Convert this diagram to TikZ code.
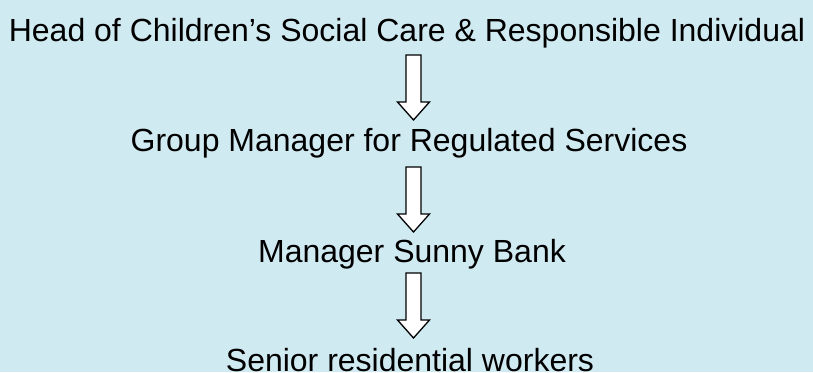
\documentclass[tikz,border=0pt]{standalone}
\usepackage{fontspec}
\setmainfont{Liberation Sans}
\usetikzlibrary{calc}
\definecolor{bg}{RGB}{208,234,242}
\newcommand{\barrow}[2]{%
  \draw[blockarrow] ($(#1)+(-7.5,0)$) -- ($(#1)+(7.5,0)$) -- ($(#2)+(7.5,-18)$) -- ($(#2)+(16,-18)$) -- (#2) -- ($(#2)+(-16,-18)$) -- ($(#2)+(-7.5,-18)$) -- cycle;}
\begin{document}
\begin{tikzpicture}[x=1pt,y=-1pt,
  lbl/.style={font=\fontsize{32}{38}\selectfont, anchor=base, inner sep=0pt},
  blockarrow/.style={fill=white, draw=black, line width=1.3pt, line join=miter}]
\fill[bg] (0,0) rectangle (813,372);
\useasboundingbox (0,0) rectangle (813,372);
\node[lbl] (t1) at (407,41) {Head of Children’s Social Care \& Responsible Individual};
\node[lbl] (t2) at (409,151) {Group Manager for Regulated Services};
\node[lbl] (t3) at (412,262) {Manager Sunny Bank};
\node[lbl] (t4) at (410,371) {Senior residential workers};
\coordinate (a1s) at (413.5,55);  \coordinate (a1e) at (413.5,120);
\coordinate (a2s) at (413.5,167); \coordinate (a2e) at (413.5,232);
\coordinate (a3s) at (413.5,273); \coordinate (a3e) at (413.5,338);
\barrow{a1s}{a1e}
\barrow{a2s}{a2e}
\barrow{a3s}{a3e}
\end{tikzpicture}
\end{document}
